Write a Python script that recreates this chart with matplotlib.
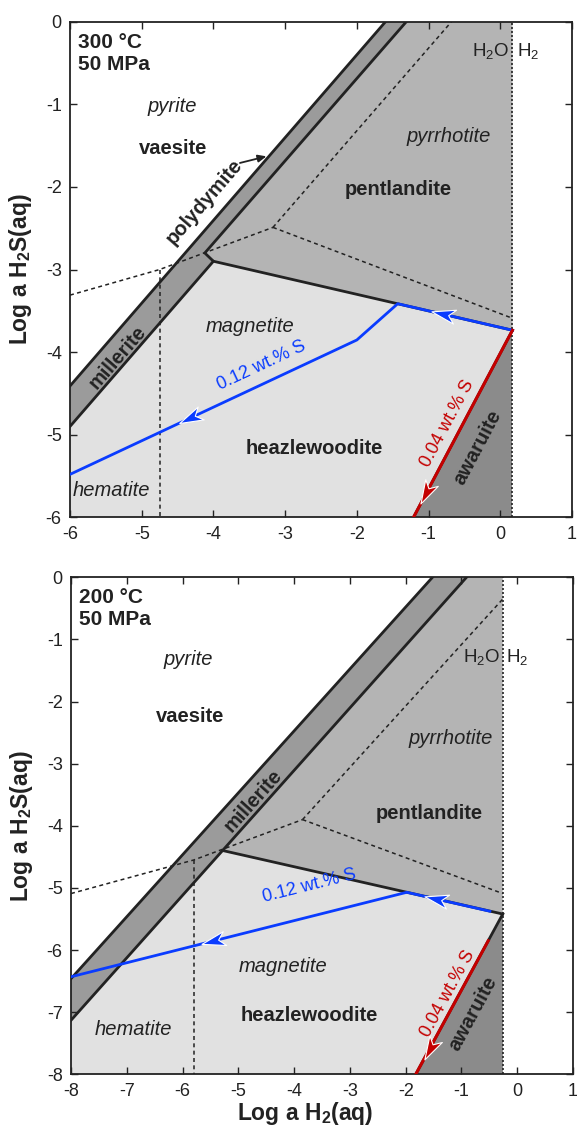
import numpy as np
import matplotlib as mpl
mpl.use("Agg")
import matplotlib.pyplot as plt
from matplotlib.path import Path
from matplotlib.markers import MarkerStyle
from matplotlib.transforms import Affine2D

mpl.rcParams.update({
    "font.family": ["Liberation Sans", "DejaVu Sans"],
    "mathtext.fontset": "custom",
    "mathtext.rm": "Liberation Sans",
    "mathtext.it": "Liberation Sans:italic",
    "mathtext.bf": "Liberation Sans:bold",
    "axes.unicode_minus": False,
})

# --- colours ---
C_BAND = "#9b9b9b"      # polydymite / millerite band
C_PN = "#b4b4b4"        # pentlandite
C_HZ = "#e1e1e1"        # heazlewoodite
C_AW = "#8b8b8b"        # awaruite
BLUE = "#0a3cff"
RED = "#c40000"
INK = "#222222"

# ================= 300 °C panel =================
band300_x = [-6.0, -1.60, -1.31, -4.12, -4.00, -6.0]
band300_y = [-4.41, 0.0, 0.0, -2.80, -2.90, -4.90]
pn300_x = [-4.12, -1.31, 0.17, 0.17, -4.00]
pn300_y = [-2.80, 0.0, 0.0, -3.735, -2.90]
hz300_x = [-6.0, -4.00, 0.17, -1.21, -6.0]
hz300_y = [-4.90, -2.90, -3.735, -6.0, -6.0]
aw300_x = [0.17, 0.17, -1.21]
aw300_y = [-3.735, -6.0, -6.0]
outer300_x = [-6.0, -1.60]
outer300_y = [-4.41, 0.0]
inner300_x = [-6.0, -4.00, -4.12, -1.31]
inner300_y = [-4.90, -2.90, -2.80, 0.0]
hztop300_x = [-4.00, 0.17]
hztop300_y = [-2.90, -3.735]
awb300_x = [0.17, -1.21]
awb300_y = [-3.735, -6.0]
h2o300 = 0.17
fe300 = [([-6.0, -4.75, -3.17], [-3.31, -3.00, -2.49]),
         ([-3.17, -0.68], [-2.49, 0.0]),
         ([-3.17, 0.17], [-2.49, -3.59]),
         ([-4.75, -4.75], [-3.00, -6.0])]
blue300_x = [-6.0, -2.00, -1.43, 0.17]
blue300_y = [-5.48, -3.853, -3.414, -3.735]
red300_x = [0.17, -1.21]
red300_y = [-3.735, -6.0]
# arrow heads: (x, y, dx, dy, colour)
arr300 = [(-0.80, -3.54, -1.0, 0.20, BLUE),
          (-4.33, -4.80, -1.0, -0.407, BLUE),
          (-1.03, -5.70, -1.0, -1.638, RED)]

# ================= 200 °C panel =================
band200_x = [-8.0, -1.52, -0.91, -8.0]
band200_y = [-6.46, 0.0, 0.0, -7.13]
pn200_x = [-5.27, -0.91, -0.26, -0.26]
pn200_y = [-4.40, 0.0, 0.0, -5.42]
hz200_x = [-8.0, -5.27, -0.26, -1.82, -8.0]
hz200_y = [-7.13, -4.40, -5.42, -8.0, -8.0]
aw200_x = [-0.26, -0.26, -1.82]
aw200_y = [-5.42, -8.0, -8.0]
outer200_x = [-8.0, -1.52]
outer200_y = [-6.46, 0.0]
inner200_x = [-8.0, -0.91]
inner200_y = [-7.13, 0.0]
hztop200_x = [-5.27, -0.26]
hztop200_y = [-4.40, -5.42]
awb200_x = [-0.26, -1.82]
awb200_y = [-5.42, -8.0]
h2o200 = -0.26
fe200 = [([-8.0, -5.80, -3.85], [-5.09, -4.55, -3.90]),
         ([-3.85, -0.26], [-3.90, -0.35]),
         ([-3.85, -0.26], [-3.90, -5.09]),
         ([-5.80, -5.80], [-4.55, -8.0])]
blue200_x = [-8.0, -1.98, -0.49]
blue200_y = [-6.43, -5.07, -5.375]
red200_x = [-0.52, -1.82]
red200_y = [-5.85, -8.0]
arr200 = [(-1.45, -5.18, -1.0, 0.204, BLUE),
          (-5.45, -5.85, -1.0, -0.226, BLUE),
          (-1.57, -7.59, -1.0, -1.654, RED)]

# text labels: (text, x, y, style, slope-for-rotation or None, colour, size)
FS = 14.5
lab300 = [
    ("pyrite", -4.58, -1.03, "italic", None, INK, FS),
    ("vaesite", -4.56, -1.53, "bold", None, INK, FS),
    ("polydymite", -4.13, -2.18, "bold", 1.0, INK, FS),
    ("millerite", -5.33, -4.06, "bold", 1.0, INK, FS),
    ("magnetite", -3.49, -3.69, "italic", None, INK, FS),
    ("0.12 wt.% S", -3.33, -4.16, "normal", 0.407, BLUE, 13),
    ("heazlewoodite", -2.60, -5.17, "bold", None, INK, FS),
    ("hematite", -5.42, -5.67, "italic", None, INK, FS),
    ("pyrrhotite", -0.72, -1.39, "italic", None, INK, FS),
    ("pentlandite", -1.42, -2.03, "bold", None, INK, FS),
    ("0.04 wt.% S", -0.74, -4.86, "normal", 1.638, RED, 13),
    ("awaruite", -0.31, -5.15, "bold", 1.638, INK, FS),
]
lab200 = [
    ("pyrite", -5.90, -1.33, "italic", None, INK, FS),
    ("vaesite", -5.87, -2.24, "bold", None, INK, FS),
    ("millerite", -4.73, -3.59, "bold", 1.0, INK, FS),
    ("pyrrhotite", -1.20, -2.60, "italic", None, INK, FS),
    ("pentlandite", -1.57, -3.80, "bold", None, INK, FS),
    ("0.12 wt.% S", -3.72, -4.96, "normal", 0.226, BLUE, 13),
    ("magnetite", -4.20, -6.27, "italic", None, INK, FS),
    ("heazlewoodite", -3.72, -7.05, "bold", None, INK, FS),
    ("hematite", -6.88, -7.28, "italic", None, INK, FS),
    ("0.04 wt.% S", -1.24, -6.70, "normal", 1.654, RED, 13),
    ("awaruite", -0.79, -7.02, "bold", 1.654, INK, FS),
]

HEAD = Path([(1, 0), (-1, 0.6), (-0.45, 0), (-1, -0.6), (1, 0)],
            [Path.MOVETO, Path.LINETO, Path.LINETO, Path.LINETO, Path.CLOSEPOLY])


def disp_angle(ax, x, y, dx, dy):
    p = ax.transData.transform([(x, y), (x + dx, y + dy)])
    return np.degrees(np.arctan2(p[1, 1] - p[0, 1], p[1, 0] - p[0, 0]))


def panel(ax, xlim, ylim, fills, outer, inner, hztop, awb, h2o, fe,
          blue, red, arrows, labels, cond, h2o_y):
    ax.set_xlim(*xlim)
    ax.set_ylim(*ylim)
    for (xs, ys), c in fills:
        ax.fill(xs, ys, color=c, lw=0, zorder=1)
    for xs, ys in fe:
        ax.plot(xs, ys, color=INK, lw=1.1, ls=(0, (2.6, 2.2)), zorder=2)
    ax.plot([h2o, h2o], ylim, color=INK, lw=1.2, ls=(0, (1.2, 1.2)), zorder=2)
    for xs, ys in (outer, inner, hztop, awb):
        ax.plot(xs, ys, color=INK, lw=2.0, solid_joinstyle="miter", zorder=3)
    ax.plot(*blue, color=BLUE, lw=2.0, zorder=4)
    ax.plot(*red, color=RED, lw=2.2, zorder=4)
    for x, y, dx, dy, c in arrows:
        a = disp_angle(ax, x, y, dx, dy)
        m = MarkerStyle(HEAD, transform=Affine2D().rotate_deg(a))
        ax.plot([x], [y], marker=m, ms=17, mfc=c, mec="white", mew=0.8,
                ls="none", zorder=5)
    for txt, x, y, st, slope, c, fs in labels:
        rot = 0 if slope is None else disp_angle(ax, x, y, 1.0, slope)
        kw = dict(fontweight="bold") if st == "bold" else \
            dict(fontstyle="italic") if st == "italic" else {}
        ax.text(x, y, txt, ha="center", va="center", rotation=rot,
                rotation_mode="anchor", color=c, fontsize=fs, zorder=6, **kw)
    ax.text(0.015, 0.978, cond, transform=ax.transAxes, ha="left", va="top",
            fontsize=15, fontweight="bold", color=INK, linespacing=1.2,
            zorder=6)
    ax.text(h2o - 0.04, h2o_y, "H$_2$O", ha="right", va="center",
            fontsize=13.5, color=INK, zorder=6)
    ax.text(h2o + 0.06, h2o_y, "H$_2$", ha="left", va="center",
            fontsize=13.5, color=INK, zorder=6)
    ax.set_xticks(np.arange(xlim[0], xlim[1] + 1))
    ax.set_yticks(np.arange(ylim[0], ylim[1] + 1))
    ax.tick_params(direction="in", top=True, right=True, length=5, width=1.0,
                   labelsize=13, pad=6, colors=INK)
    for s in ax.spines.values():
        s.set_linewidth(1.3)
        s.set_color(INK)
    ax.set_ylabel("Log a H$_\\mathbf{2}$S(aq)", fontsize=16.5,
                  fontweight="bold", color=INK)
    ax.yaxis.set_label_coords(-0.072, 0.5)


fig = plt.figure(figsize=(5.77, 11.36), dpi=100)
ax1 = fig.add_axes([0.1213, 0.5446, 0.870, 0.4363])
ax2 = fig.add_axes([0.1231, 0.0543, 0.870, 0.4375])
ax1.set_xlim(-6, 1); ax1.set_ylim(-6, 0)
ax2.set_xlim(-8, 1); ax2.set_ylim(-8, 0)

panel(ax1, (-6, 1), (-6, 0),
      [((band300_x, band300_y), C_BAND), ((pn300_x, pn300_y), C_PN),
       ((hz300_x, hz300_y), C_HZ), ((aw300_x, aw300_y), C_AW)],
      (outer300_x, outer300_y), (inner300_x, inner300_y),
      (hztop300_x, hztop300_y), (awb300_x, awb300_y), h2o300, fe300,
      (blue300_x, blue300_y), (red300_x, red300_y), arr300, lab300,
      "300 °C\n50 MPa", -0.35)
# polydymite pointer
ax1.annotate("", xy=(-3.26, -1.63), xytext=(-3.63, -1.71),
             arrowprops=dict(arrowstyle="-|>,head_length=0.5,head_width=0.22",
                             color=INK, lw=1.3, shrinkA=0, shrinkB=0),
             zorder=6)

panel(ax2, (-8, 1), (-8, 0),
      [((band200_x, band200_y), C_BAND), ((pn200_x, pn200_y), C_PN),
       ((hz200_x, hz200_y), C_HZ), ((aw200_x, aw200_y), C_AW)],
      (outer200_x, outer200_y), (inner200_x, inner200_y),
      (hztop200_x, hztop200_y), (awb200_x, awb200_y), h2o200, fe200,
      (blue200_x, blue200_y), (red200_x, red200_y), arr200, lab200,
      "200 °C\n50 MPa", -1.28)
ax2.set_xlabel("Log a H$_\\mathbf{2}$(aq)", fontsize=16.5, fontweight="bold",
               color=INK)
ax2.xaxis.set_label_coords(0.466, -0.052)

fig.savefig("out.png", dpi=100)
